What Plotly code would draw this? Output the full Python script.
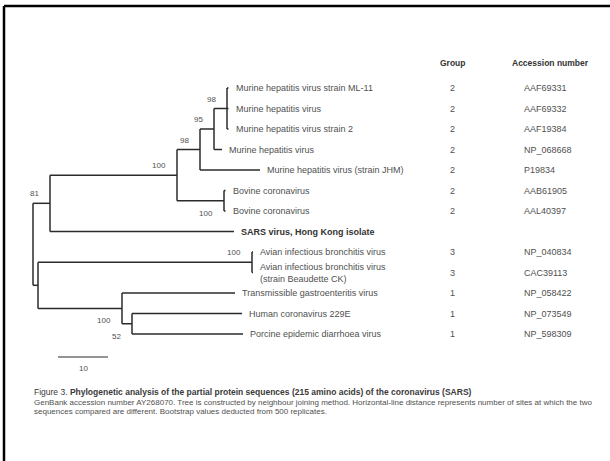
import plotly.graph_objects as go

# ---------------- data ----------------
taxa = [
    "Murine hepatitis virus strain ML-11",
    "Murine hepatitis virus",
    "Murine hepatitis virus strain 2",
    "Murine hepatitis virus",
    "Murine hepatitis virus (strain JHM)",
    "Bovine coronavirus",
    "Bovine coronavirus",
    "SARS virus, Hong Kong isolate",
    "Avian infectious bronchitis virus",
    "Avian infectious bronchitis virus<br>(strain Beaudette CK)",
    "Transmissible gastroenteritis virus",
    "Human coronavirus 229E",
    "Porcine epidemic diarrhoea virus",
]
groups = ["2", "2", "2", "2", "2", "2", "2", "", "3", "3", "1", "1", "1"]
accessions = ["AAF69331", "AAF69332", "AAF19384", "NP_068668", "P19834",
              "AAB61905", "AAL40397", "", "NP_040834", "CAC39113",
              "NP_058422", "NP_073549", "NP_598309"]

# tree: node, parent, branch length (tips t0..t12 follow taxa order)
node_names = ["A", "B", "C", "D", "E", "t0", "t1", "t2", "t3", "t4",
              "BOV", "t5", "t6", "t7", "F", "AV", "t8", "t9", "G", "t10",
              "H", "t11", "t12"]
node_parents = ["root", "A", "B", "C", "D", "E", "E", "E", "D", "C",
                "B", "BOV", "BOV", "A", "root", "F", "AV", "AV", "F", "G",
                "G", "H", "H"]
branch_lengths = [3.4, 25.4, 4.6, 2.8, 2.6, 0.3, 0.3, 0.3, 1.6, 12.0,
                  9.4, 0.3, 0.3, 36.8, 1.0, 42.8, 0.2, 0.2, 16.8, 22.6,
                  2.0, 22.0, 22.2]
bootstrap_nodes = ["A", "B", "C", "D", "E", "BOV", "AV", "G", "H"]
bootstrap_values = [81, 100, 98, 95, 98, 100, 100, 100, 52]
scale_bar_length = 10

caption_lines = [
    "Figure 3. <b>Phylogenetic analysis of the partial protein sequences (215 amino acids) of the coronavirus (SARS)</b>",
    "GenBank accession number AY268070. Tree is constructed by neighbour joining method. Horizontal-line distance represents number of sites at which the two",
    "sequences compared are different. Bootstrap values deducted from 500 replicates.",
]

# ---------------- tree layout ----------------
W, H = 610, 461
children = {}
for n, p in zip(node_names, node_parents):
    children.setdefault(p, []).append(n)
blen = dict(zip(node_names, branch_lengths))
parent = dict(zip(node_names, node_parents))

xpos = {"root": 0.0}
def set_x(n):
    for c in children.get(n, []):
        xpos[c] = xpos[n] + blen[c]
        set_x(c)
set_x("root")

ypos = {}
def set_y(n):
    if n.startswith("t"):
        ypos[n] = float(int(n[1:]))
        return ypos[n]
    ys = [set_y(c) for c in children[n]]
    ypos[n] = (min(ys) + max(ys)) / 2
    return ypos[n]
set_y("root")

lx, ly = [], []
for n in ["root"] + node_names:
    if n in children:
        ys = [ypos[c] for c in children[n]]
        lx += [xpos[n], xpos[n], None]
        ly += [min(ys), max(ys), None]
    if n != "root":
        lx += [xpos[parent[n]], xpos[n], None]
        ly += [ypos[n], ypos[n], None]

LINE = "#2b2b2b"
TXT = "#505050"
FONT = "Liberation Sans, Arial, sans-serif"

fig = go.Figure()
fig.add_trace(go.Scatter(x=lx, y=ly, mode="lines",
                         line=dict(color=LINE, width=1.5),
                         hoverinfo="skip"))

# scale bar
px_per_unit = 5.0
x0_px = 33.0
row0_px, row_px = 88.0, 20.5
def row_of(px):
    return (px - row0_px) / row_px
sb_x0 = (58 - x0_px) / px_per_unit
fig.add_trace(go.Scatter(x=[sb_x0, sb_x0 + scale_bar_length],
                         y=[row_of(357), row_of(357)], mode="lines",
                         line=dict(color=LINE, width=1.2), hoverinfo="skip"))

ann = []
# tip labels
for i, t in enumerate(taxa):
    tip = "t%d" % i
    bold = t.startswith("SARS")
    ann.append(dict(x=xpos[tip], y=ypos[tip], text=("<b>%s</b>" % t) if bold else t,
                    xanchor="left", yanchor="middle", xshift=5, showarrow=False,
                    align="left",
                    font=dict(size=9, color="#333333" if bold else TXT, family=FONT)))
    if groups[i]:
        ann.append(dict(x=452 / W, xref="paper", y=ypos[tip], text=groups[i],
                        xanchor="center", yanchor="middle", showarrow=False,
                        font=dict(size=9, color=TXT, family=FONT)))
    if accessions[i]:
        ann.append(dict(x=522 / W, xref="paper", y=ypos[tip], text=accessions[i],
                        xanchor="left", yanchor="middle", showarrow=False,
                        font=dict(size=9, color=TXT, family=FONT)))

# headers
ann.append(dict(x=453 / W, xref="paper", y=row_of(63), text="<b>Group</b>",
                xanchor="center", yanchor="middle", showarrow=False,
                font=dict(size=8.5, color="#333333", family=FONT)))
ann.append(dict(x=550 / W, xref="paper", y=row_of(63), text="<b>Accession number</b>",
                xanchor="center", yanchor="middle", showarrow=False,
                font=dict(size=8.5, color="#333333", family=FONT)))

# bootstrap values
below = {"BOV", "G", "H"}
for n, v in zip(bootstrap_nodes, bootstrap_values):
    if n in below:
        ann.append(dict(x=xpos[n], y=ypos[n], text=str(v), xanchor="right",
                        yanchor="top", xshift=-9, yshift=-6, showarrow=False,
                        font=dict(size=8, color=TXT, family=FONT)))
    else:
        ann.append(dict(x=xpos[n], y=ypos[n], text=str(v), xanchor="right",
                        yanchor="bottom", xshift=-9, yshift=3, showarrow=False,
                        font=dict(size=8, color=TXT, family=FONT)))

# scale label
ann.append(dict(x=sb_x0 + scale_bar_length / 2, y=row_of(368), text=str(scale_bar_length),
                xanchor="center", yanchor="middle", showarrow=False,
                font=dict(size=8, color=TXT, family=FONT)))

# caption
for k, (txt, ypx) in enumerate(zip(caption_lines, [392, 402, 411])):
    ann.append(dict(x=32 / W, xref="paper", y=1 - ypx / H, yref="paper", text=txt,
                    xanchor="left", yanchor="middle", showarrow=False,
                    font=dict(size=8.5 if k == 0 else 8,
                              color="#3a3a3a" if k == 0 else TXT, family=FONT)))

shapes = [
    dict(type="line", xref="paper", yref="paper", x0=4 / W, x1=1, y0=1 - 6 / H, y1=1 - 6 / H,
         line=dict(color="black", width=2.5)),
    dict(type="line", xref="paper", yref="paper", x0=4 / W, x1=4 / W, y0=0, y1=1 - 6 / H,
         line=dict(color="black", width=2.5)),
]

fig.update_layout(
    width=W, height=H, margin=dict(l=0, r=0, t=0, b=0),
    paper_bgcolor="white", plot_bgcolor="white", showlegend=False,
    xaxis=dict(visible=False, range=[-x0_px / px_per_unit, (W - x0_px) / px_per_unit],
               fixedrange=True),
    yaxis=dict(visible=False, range=[(H - row0_px) / row_px, -row0_px / row_px],
               fixedrange=True),
    annotations=ann, shapes=shapes, hovermode=False,
    font=dict(family=FONT),
)

fig.write_html("out.html", config={"staticPlot": True},
               post_script="document.body.style.margin='0';document.body.style.overflow='hidden';")
